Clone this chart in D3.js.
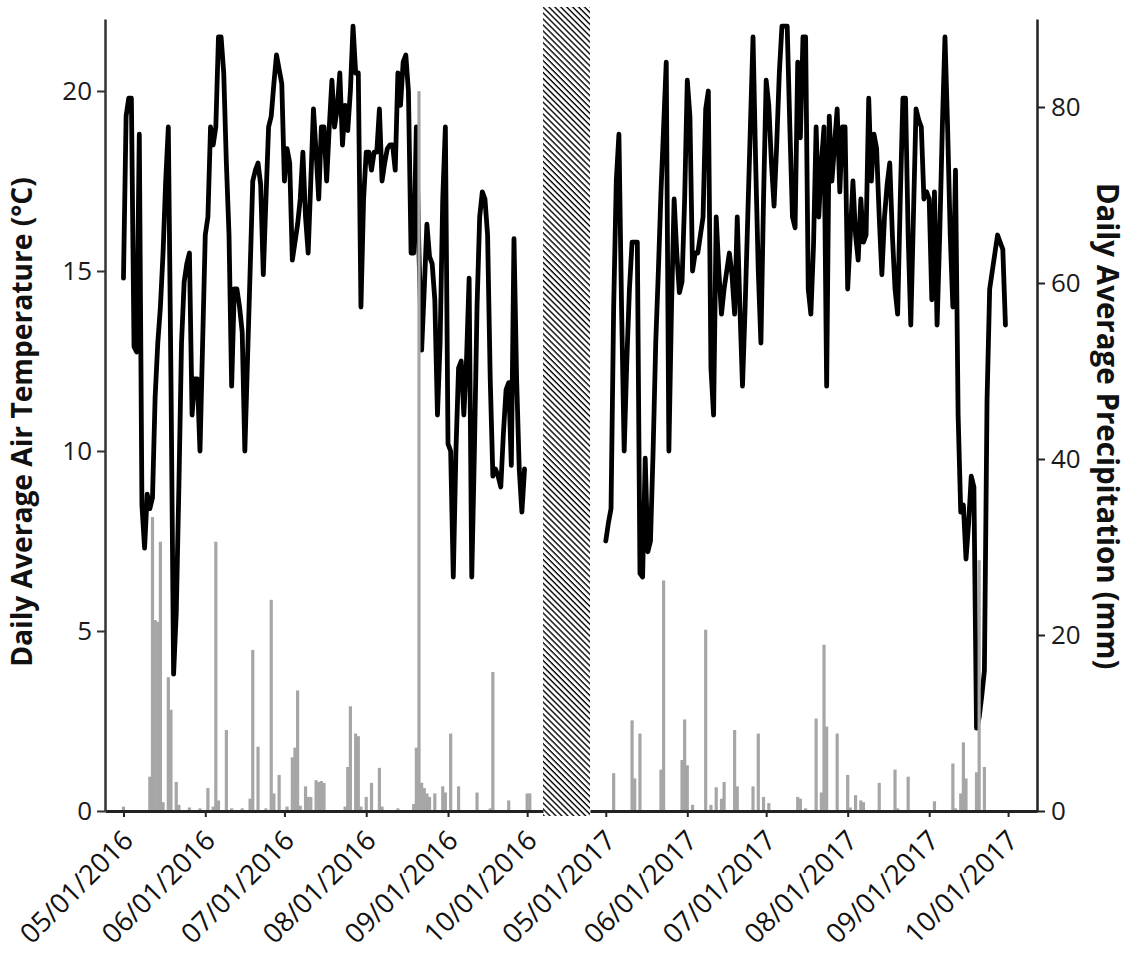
<!DOCTYPE html>
<html><head><meta charset="utf-8">
<script src="https://cdn.jsdelivr.net/npm/d3@7"></script>
<style>body{margin:0;background:#fff}svg{display:block}</style>
</head><body>
<svg id="chart" width="1131" height="956"></svg>
<script>
// ---------- DATA ----------
// Daily average air temperature (°C), one value per day starting 05/01
const temp2016 = [
14.8,19.3,19.8,19.8,12.9,12.75,18.8,8.5,7.3,8.8,
8.4,8.7,11.5,13.0,14.0,15.5,17.5,19.0,12.0,3.8,
5.5,9.0,13.0,14.7,15.2,15.5,11.0,12.0,12.0,10.0,
13.0,16.0,16.5,19.0,18.5,19.0,21.5,21.5,20.5,18.0,
16.0,11.8,14.5,14.5,14.0,13.3,10.0,12.5,15.0,17.5,
17.8,18.0,17.4,14.9,17.0,19.0,19.3,20.2,21.0,20.6,
20.2,17.5,18.4,18.0,15.3,15.8,16.3,17.0,18.3,16.5,
15.5,17.5,19.5,18.3,17.0,19.0,19.0,17.5,19.0,20.3,
19.0,19.5,20.5,18.5,19.6,18.9,20.0,21.8,20.5,20.5,
14.0,17.0,18.3,18.3,17.8,18.3,18.3,19.5,17.5,18.0,
18.4,18.5,18.5,17.8,20.5,19.6,20.8,21.0,20.0,15.5,
15.5,19.0,15.5,12.8,14.5,16.3,15.4,15.2,14.2,11.0,
13.0,17.0,19.0,10.2,10.0,6.5,10.0,12.3,12.5,11.0,
12.5,14.8,6.5,10.0,14.0,16.5,17.2,17.0,16.0,12.0,
9.3,9.5,9.3,9.0,10.5,11.7,11.9,9.6,15.9,12.0,
9.5,8.3,9.5];
const temp2017 = [
7.5,8.0,8.4,14.0,17.5,18.8,14.0,10.0,12.5,14.5,
15.8,15.8,15.8,6.6,6.5,9.8,7.2,7.5,10.0,13.0,
15.0,17.2,19.0,20.8,10.0,14.0,17.0,15.5,14.4,14.7,
17.0,20.3,19.3,15.0,15.5,15.5,16.0,16.5,19.5,20.0,
12.3,11.0,16.5,15.0,13.8,14.5,15.0,15.5,14.9,13.8,
16.5,14.0,11.8,14.0,16.5,19.0,21.5,18.0,15.0,13.0,
17.0,20.3,19.6,18.0,16.8,18.5,20.5,21.8,21.8,21.8,
19.0,16.5,16.2,20.8,18.7,21.5,21.5,14.5,13.8,15.7,
19.0,16.5,18.0,19.0,11.8,19.3,17.5,18.5,19.5,17.2,
19.0,19.0,14.5,16.0,17.5,16.0,15.3,17.0,15.8,16.0,
19.8,17.5,18.8,18.4,16.5,14.9,16.5,17.4,18.0,16.0,
14.5,13.8,17.0,19.8,19.8,16.0,13.5,16.5,19.5,19.2,
19.0,17.0,17.2,17.0,14.2,17.2,13.5,16.0,19.0,21.5,
19.0,16.0,14.0,17.8,11.0,8.3,8.5,7.0,8.0,9.3,
9.0,2.3,2.6,3.2,3.9,11.4,14.5,15.0,15.5,16.0,
15.8,15.6,13.5];
// Daily average precipitation (mm): [day offset from 05/01, mm]
const precip2016 = [[0,0.5],[10,3.9],[11,33.4],[12,21.7],[13,21.5],[14,30.6],[15,1.0],[17,15.2],[18,11.5],
[20,3.3],[21,0.7],[25,0.4],[29,0.3],[32,2.6],[34,0.5],[35,30.6],[36,1.2],[39,9.2],[41,0.3],[45,0.3],
[48,1.4],[49,18.3],[51,7.3],[54,0.3],[56,24.0],[57,2.0],[59,4.1],[62,0.5],[64,6.1],[65,7.2],[66,13.7],
[67,0.6],[69,2.8],[70,1.6],[71,1.6],[73,3.5],[74,3.3],[75,3.4],[76,3.2],[84,0.5],[85,5.0],[86,11.9],
[88,8.8],[89,8.5],[90,0.5],[92,1.6],[94,3.2],[97,4.9],[98,0.5],[104,0.3],[110,0.8],[111,7.2],[112,81.8],
[113,3.2],[114,2.6],[115,2.0],[116,1.6],[118,2.0],[121,2.8],[122,2.1],[124,8.8],[127,2.8],[134,2.1],
[139,0.3],[140,15.8],[146,1.2],[153,2.0],[154,2.0]];
const precip2017 = [[3,4.3],[10,10.3],[11,3.7],[13,8.8],[21,4.7],[22,26.2],[29,5.8],[30,10.4],[31,5.2],
[33,0.7],[38,20.6],[40,0.7],[42,2.7],[44,1.4],[45,3.3],[49,9.2],[50,2.8],[56,2.8],[58,8.8],[60,1.6],
[62,0.9],[73,1.6],[74,1.4],[76,0.3],[80,10.5],[82,2.1],[83,18.9],[84,9.6],[88,8.8],[92,4.1],[93,0.4],
[95,1.8],[97,1.2],[98,1.0],[104,3.2],[110,4.7],[111,0.3],[115,3.9],[125,1.1],[132,5.4],[133,0.3],
[135,2.0],[136,7.8],[137,3.7],[141,4.4],[142,28.5],[144,5.0]];
const tempTicks = [0,5,10,15,20];
const precipTicks = [0,20,40,60,80];
const monthLabels2016 = ["05/01/2016","06/01/2016","07/01/2016","08/01/2016","09/01/2016","10/01/2016"];
const monthLabels2017 = ["05/01/2017","06/01/2017","07/01/2017","08/01/2017","09/01/2017","10/01/2017"];
const leftTitle = "Daily Average Air Temperature (°C)";
const rightTitle = "Daily Average Precipitation (mm)";

// ---------- CHART ----------
(function(){
const svg = d3.select("#chart");
const FONT = "'Open Sans', sans-serif";
const base = 811, yTop = 19;
const parseLabel = s => { const [m,d,y] = s.split("/").map(Number); return new Date(Date.UTC(y, m-1, d)); };
const dayDate = (year, off) => new Date(Date.UTC(year, 4, 1 + off));

const yT = d3.scaleLinear().domain([0, 22]).range([base, yTop]);
const yP = d3.scaleLinear().domain([0, 90]).range([base, yTop]);

const panels = [
  {year: 2016, temp: temp2016, precip: precip2016, labels: monthLabels2016,
   x: d3.scaleUtc().domain([Date.UTC(2016,3,24), Date.UTC(2016,9,7)]).range([105, 543])},
  {year: 2017, temp: temp2017, precip: precip2017, labels: monthLabels2017,
   x: d3.scaleUtc().domain([Date.UTC(2017,3,25), Date.UTC(2017,9,12)]).range([590, 1037])}
];

const defs = svg.append("defs");
const pat = defs.append("pattern").attr("id","hatch").attr("patternUnits","userSpaceOnUse")
  .attr("width",4.2).attr("height",4.2).attr("patternTransform","rotate(-45)");
pat.append("rect").attr("width",4.2).attr("height",4.2).attr("fill","#fff");
pat.append("line").attr("x1",1).attr("y1",0).attr("x2",1).attr("y2",4.2)
  .attr("stroke","#000").attr("stroke-width",1.4);

const lineGen = (p) => d3.line()
  .x((v,i) => p.x(dayDate(p.year, i)))
  .y(v => yT(v));

panels.forEach(p => {
  svg.append("path").datum(p.temp)
    .attr("d", lineGen(p))
    .attr("fill","none").attr("stroke","#000").attr("stroke-width",4.8)
    .attr("stroke-linejoin","round").attr("stroke-linecap","round");
  svg.append("g").selectAll("rect").data(p.precip).join("rect")
    .attr("x", d => p.x(dayDate(p.year, d[0])) - 1.6)
    .attr("width", 3.2)
    .attr("y", d => yP(d[1]))
    .attr("height", d => base - yP(d[1]))
    .attr("fill","#a6a6a6");
});

svg.append("rect").attr("x",543).attr("y",7).attr("width",47).attr("height",809)
  .attr("fill","url(#hatch)");

panels.forEach(p => {
  const ticks = p.labels.map(parseLabel);
  const g = svg.append("g").attr("transform",`translate(0,${base})`)
    .call(d3.axisBottom(p.x).tickValues(ticks).tickSize(6).tickSizeOuter(0)
      .tickFormat((d,i) => p.labels[i]));
  g.select(".domain").attr("stroke","#222").attr("stroke-width",3);
  g.selectAll(".tick line").attr("stroke","#222").attr("stroke-width",2);
  g.selectAll(".tick text")
    .attr("font-family",FONT).attr("font-size",27.5).attr("fill","#111")
    .attr("text-anchor","end").attr("dy",0).attr("y",0)
    .attr("transform","translate(11,31) rotate(-45)");
});

const gl = svg.append("g").attr("transform","translate(105,0)")
  .call(d3.axisLeft(yT).tickValues(tempTicks).tickSize(8).tickPadding(5).tickSizeOuter(0));
gl.select(".domain").attr("stroke","#333").attr("stroke-width",2.5);
gl.selectAll(".tick line").attr("stroke","#333").attr("stroke-width",2);
gl.selectAll(".tick text").attr("font-family",FONT).attr("font-size",26).attr("fill","#1a1a1a");

const gr = svg.append("g").attr("transform","translate(1037,0)")
  .call(d3.axisRight(yP).tickValues(precipTicks).tickSize(8).tickPadding(6).tickSizeOuter(0));
gr.select(".domain").attr("stroke","#222").attr("stroke-width",2.5);
gr.selectAll(".tick line").attr("stroke","#222").attr("stroke-width",2);
gr.selectAll(".tick text").attr("font-family",FONT).attr("font-size",26).attr("fill","#1a1a1a");

function fit(sel, target){
  const len = sel.node().getComputedTextLength();
  const fs = parseFloat(sel.attr("font-size"));
  sel.attr("font-size", fs * target / len);
}
const lt = svg.append("text").text(leftTitle)
  .attr("font-family",FONT).attr("font-weight","bold").attr("font-size",22).attr("fill","#111")
  .attr("text-anchor","middle")
  .attr("transform","translate(32,422) rotate(-90)");
fit(lt, 490);
const rt = svg.append("text").text(rightTitle)
  .attr("font-family",FONT).attr("font-weight","bold").attr("font-size",22).attr("fill","#111")
  .attr("text-anchor","middle")
  .attr("transform","translate(1097,426) rotate(90)");
fit(rt, 487);
})();
</script>
</body></html>
